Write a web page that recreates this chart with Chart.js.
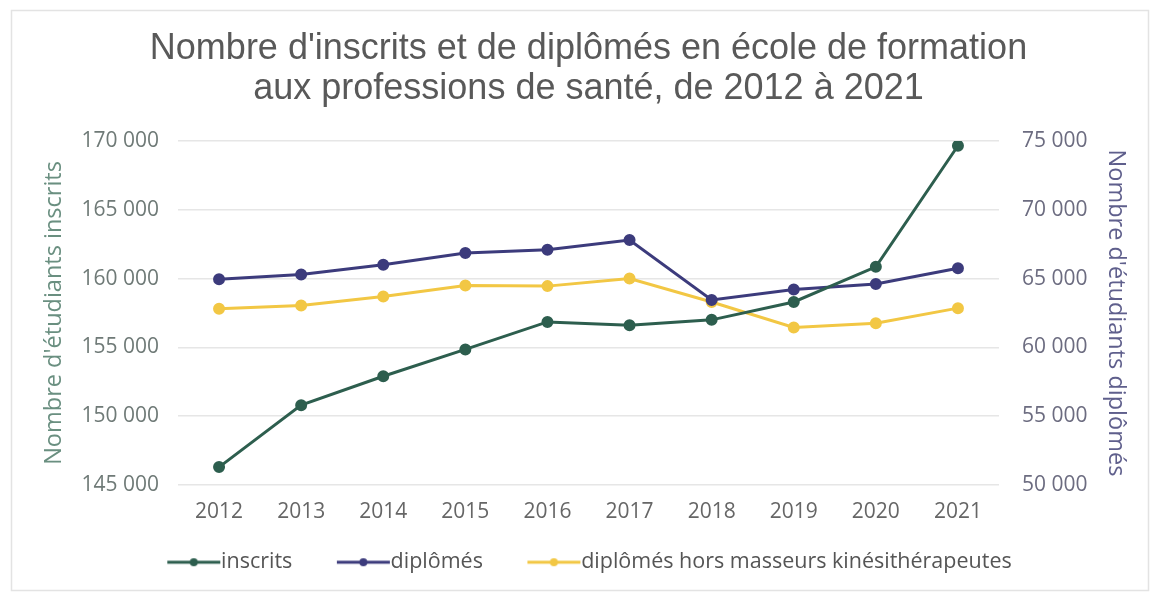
<!DOCTYPE html>
<html lang="fr">
<head>
<meta charset="utf-8">
<title>Inscrits et diplômés</title>
<script src="https://cdn.jsdelivr.net/npm/chart.js@4"></script>
<style>
  html, body { margin: 0; padding: 0; background: #fff; }
  #wrap { width: 1153px; height: 595px; position: relative; }
</style>
</head>
<body>
<div id="wrap"><canvas id="chart"></canvas></div>
<script>
// données
const years = ['2012', '2013', '2014', '2015', '2016', '2017', '2018', '2019', '2020', '2021'];
const inscrits = [146300, 150800, 152900, 154850, 156850, 156600, 157000, 158300, 160850, 169650];
const diplomes = [64950, 65300, 66000, 66850, 67100, 67800, 63450, 64200, 64600, 65750];
const diplomesHorsMK = [62800, 63050, 63700, 64500, 64450, 65000, 63300, 61450, 61750, 62850];
const leftTicks = [145000, 150000, 155000, 160000, 165000, 170000];
const rightTicks = [50000, 55000, 60000, 65000, 70000, 75000];

const colInscrits = '#2d5e4e';
const colDiplomes = '#3c3b7c';
const colHors = '#f2c744';

const legendFont = 21.5;
const legendBox = 69;

function fmt(v) {
    return String(v).replace(/\B(?=(\d{3})+(?!\d))/g, ' ');
}

// petit dessin ligne + point pour la légende (collé au texte)
function legendMark(color) {
    const c = document.createElement('canvas');
    c.width = Math.round(legendBox + legendFont);
    c.height = 12;
    const g = c.getContext('2d');
    const end = c.width - 1;
    const start = end - 53;
    g.strokeStyle = color;
    g.lineWidth = 3;
    g.beginPath();
    g.moveTo(start, 6);
    g.lineTo(end, 6);
    g.stroke();
    g.fillStyle = color;
    g.beginPath();
    g.arc((start + end) / 2, 6, 4, 0, Math.PI * 2);
    g.fill();
    return c;
}

// cadre gris + titre centré sur la zone du graphique
const frame = {
    id: 'frame',
    afterLayout(chart) {
        const t = chart.titleBlock;
        const a = chart.chartArea;
        t.left = a.left - 100;
        t.right = a.right + 100;
        t.width = t.right - t.left;
    },
    beforeDraw(chart) {
        const ctx = chart.ctx;
        ctx.save();
        ctx.strokeStyle = '#e3e3e3';
        ctx.lineWidth = 1.5;
        ctx.strokeRect(11.5, 10.5, 1137, 580);
        ctx.restore();
    }
};

function ds(label, data, color, axis) {
    return {
        label: label,
        data: data,
        yAxisID: axis,
        borderColor: color,
        backgroundColor: color,
        borderWidth: 3,
        pointRadius: 4.5,
        pointHoverRadius: 5,
        pointStyle: 'circle',
        tension: 0
    };
}

const chart = new Chart(document.getElementById('chart'), {
    type: 'line',
    data: {
        labels: years,
        datasets: [
            ds('inscrits', inscrits, colInscrits, 'y'),
            ds('diplômés', diplomes, colDiplomes, 'y2'),
            ds('diplômés hors masseurs kinésithérapeutes', diplomesHorsMK, colHors, 'y2')
        ]
    },
    options: {
        responsive: true,
        maintainAspectRatio: false,
        animation: false,
        layout: { padding: { left: 20, right: 20, top: 0, bottom: 12 } },
        plugins: {
            title: {
                display: true,
                text: ["Nombre d'inscrits et de diplômés en école de formation", 'aux professions de santé, de 2012 à 2021'],
                color: '#595959',
                font: { family: '"Liberation Sans", Arial, sans-serif', size: 36, weight: 'normal', lineHeight: 1.11 },
                padding: { top: 29, bottom: 32 }
            },
            legend: {
                position: 'bottom',
                labels: {
                    usePointStyle: true,
                    pointStyleWidth: legendBox,
                    color: '#555',
                    padding: 18.5,
                    font: { family: '"Open Sans", sans-serif', size: legendFont },
                    generateLabels(ch) {
                        return ch.data.datasets.map((d, i) => ({
                            text: d.label,
                            fillStyle: d.borderColor,
                            strokeStyle: d.borderColor,
                            lineWidth: 0,
                            pointStyle: legendMark(d.borderColor),
                            fontColor: '#555',
                            datasetIndex: i,
                            hidden: false
                        }));
                    }
                }
            },
            tooltip: { enabled: false }
        },
        scales: {
            x: {
                offset: true,
                afterFit(s) { s.height = 48; },
                grid: { display: false, drawTicks: false },
                border: { display: false },
                ticks: {
                    color: '#666',
                    padding: 14,
                    font: { family: '"Open Sans", sans-serif', size: 21 }
                }
            },
            y: {
                position: 'left',
                min: leftTicks[0],
                max: leftTicks[leftTicks.length - 1],
                afterBuildTicks(s) { s.ticks = leftTicks.map(v => ({ value: v })); },
                afterFit(s) { s.width = 158; },
                grid: { color: '#e6e6e6', lineWidth: 1.5, drawTicks: false },
                border: { display: false },
                ticks: {
                    color: '#6f7a77',
                    padding: 19,
                    font: { family: '"Open Sans", sans-serif', size: 21 },
                    callback: v => fmt(v)
                },
                title: {
                    display: true,
                    text: "Nombre d'étudiants inscrits",
                    color: '#6a8f80',
                    padding: { top: 20, bottom: 0 },
                    font: { family: '"Open Sans", sans-serif', size: 23.5 }
                }
            },
            y2: {
                position: 'right',
                min: rightTicks[0],
                max: rightTicks[rightTicks.length - 1],
                afterBuildTicks(s) { s.ticks = rightTicks.map(v => ({ value: v })); },
                afterFit(s) { s.width = 134; },
                grid: { display: false, drawTicks: false },
                border: { display: false },
                ticks: {
                    color: '#6c6c80',
                    padding: 23,
                    font: { family: '"Open Sans", sans-serif', size: 21 },
                    callback: v => fmt(v)
                },
                title: {
                    display: true,
                    text: "Nombre d'étudiants diplômés",
                    color: '#5f5f8c',
                    padding: { top: 3, bottom: 0 },
                    font: { family: '"Open Sans", sans-serif', size: 23.5 }
                }
            }
        }
    },
    plugins: [frame]
});
</script>
</body>
</html>
